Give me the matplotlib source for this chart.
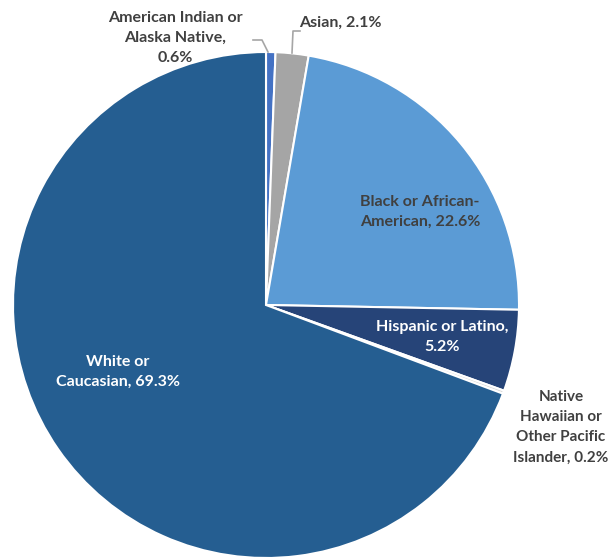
import matplotlib
matplotlib.use("Agg")
import matplotlib.pyplot as plt

categories = ["American Indian or\nAlaska Native,\n0.6%", "Asian, 2.1%",
              "Black or African-\nAmerican, 22.6%", "Hispanic or Latino,\n5.2%",
              "Native\nHawaiian or\nOther Pacific\nIslander, 0.2%", "White or\nCaucasian, 69.3%"]
values = [0.6, 2.1, 22.6, 5.2, 0.2, 69.3]
colors = ["#4472C4", "#A5A5A5", "#5B9BD5", "#264478", "#D9D9D9", "#255E91"]

W, H = 612, 558
fig = plt.figure(figsize=(W / 100, H / 100), dpi=100)
ax = fig.add_axes([0, 0, 1, 1])

cx, cy, r = 266, 305, 253
wedges, _ = ax.pie(values, colors=colors, startangle=90, counterclock=False,
                   center=(cx, H - cy), radius=r,
                   wedgeprops=dict(edgecolor="white", linewidth=1.5))
ax.set_xlim(0, W)
ax.set_ylim(0, H)
ax.set_aspect("equal")
ax.axis("off")

font = dict(family="Lato", fontweight="bold", fontsize=11.5, linespacing=1.5,
            ha="center", va="center")
dark = "#404040"
ax.text(175, H - 38, categories[0], color=dark, **font)
ax.text(340, H - 23, categories[1], color=dark, **font)
ax.text(420, H - 212, categories[2], color=dark, **font)
ax.text(442, H - 337, categories[3], color="white", **font)
font_nh = dict(font, fontsize=11, linespacing=1.57)
ax.text(561, H - 427, categories[4], color=dark, **font_nh)
ax.text(118, H - 372, categories[5], color="white", **font)

lc = "#A6A6A6"
ax.plot([253, 262, 268], [H - 40, H - 40, H - 52], color=lc, lw=1.2)
ax.plot([300, 293, 292], [H - 31, H - 31, H - 53], color=lc, lw=1.2)

fig.savefig("out.png", dpi=100)
